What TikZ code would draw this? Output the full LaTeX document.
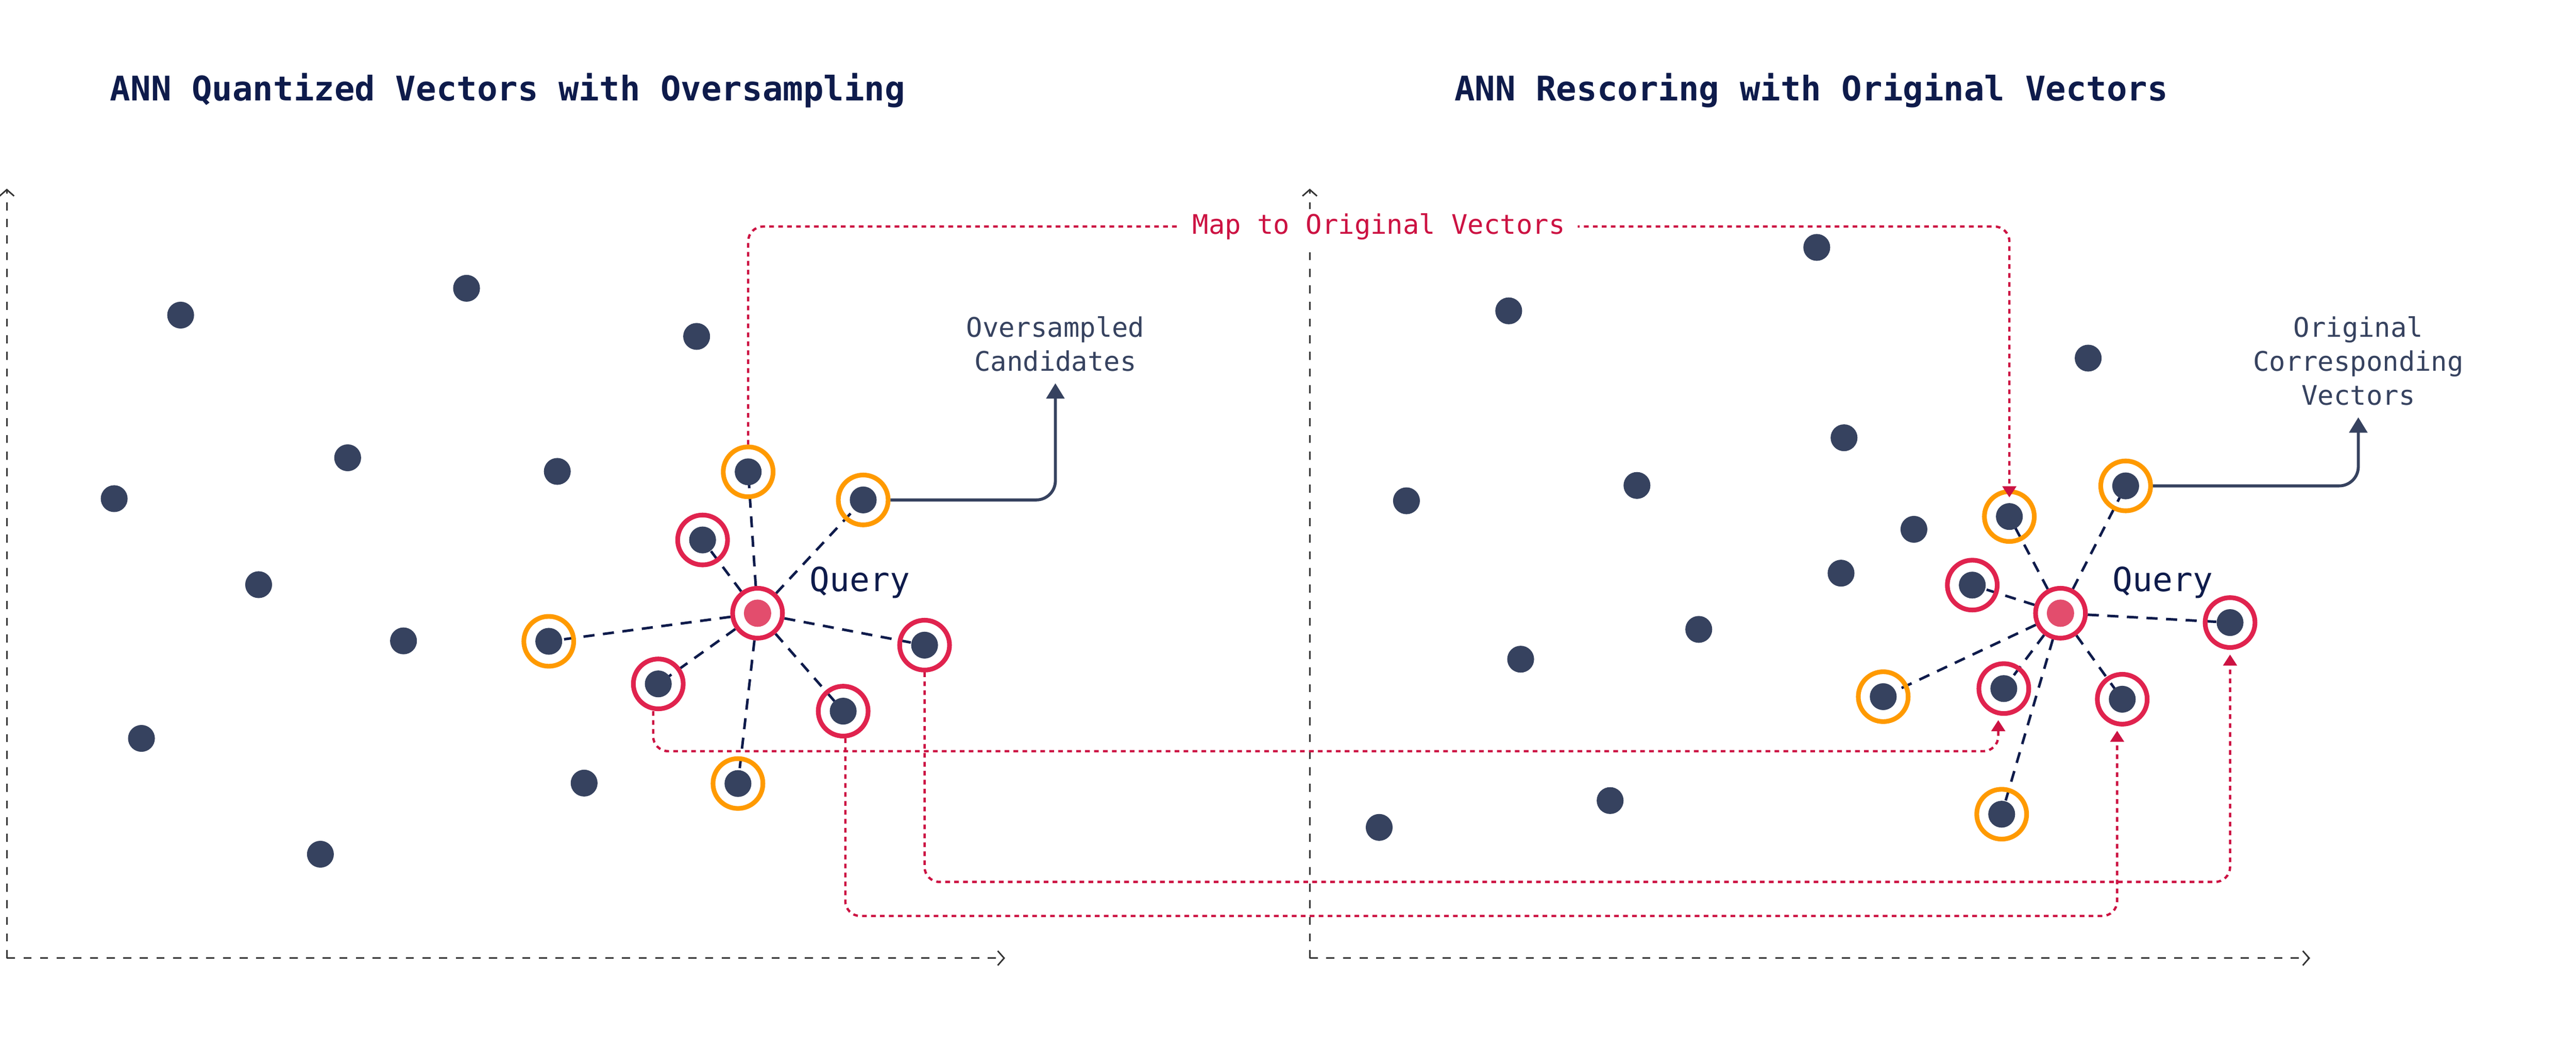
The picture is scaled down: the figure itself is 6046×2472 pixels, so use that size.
\documentclass[tikz,border=0pt]{standalone}
\usepackage{fontspec}
\setmonofont{DejaVu Sans Mono}
\usetikzlibrary{positioning,arrows.meta,backgrounds}

\definecolor{vecblue}{HTML}{36425F}
\definecolor{navy}{HTML}{0E1B4B}
\definecolor{candorange}{HTML}{FF9A00}
\definecolor{candred}{HTML}{E0234E}
\definecolor{querypink}{HTML}{E34D6D}
\definecolor{mapred}{HTML}{CC1242}
\definecolor{axisgrey}{HTML}{333333}

\tikzset{
    vec/.style={circle,fill=vecblue,inner sep=0pt,minimum size=0.63cm},
    cand/.style={circle,draw=#1,line width=0.11cm,inner sep=0pt,minimum size=1.17cm,
        path picture={\fill[vecblue] (path picture bounding box.center) circle (0.315cm);}},
    query/.style={circle,draw=candred,line width=0.11cm,inner sep=0pt,minimum size=1.17cm,
        path picture={\fill[querypink] (path picture bounding box.center) circle (0.32cm);}},
    spoke/.style={navy,line width=0.06cm,dash pattern=on 0.26cm off 0.2cm},
    mapline/.style={mapred,line width=0.055cm,dash pattern=on 0.11cm off 0.1cm,
        rounded corners=0.35cm,-{Triangle[length=0.26cm,width=0.32cm]}},
    pointer/.style={vecblue,line width=0.07cm,rounded corners=0.45cm,
        -{Triangle[length=0.36cm,width=0.42cm]}},
    axisline/.style={axisgrey,line width=0.035cm,dash pattern=on 0.19cm off 0.2cm,
        -{Straight Barb[length=0.15cm,width=0.34cm]}},
    title/.style={font=\ttfamily\bfseries\fontsize{22.6pt}{27pt}\selectfont,text=navy,inner sep=0pt},
    qlabel/.style={font=\ttfamily\fontsize{22.2pt}{26pt}\selectfont,text=navy,inner sep=0pt},
    note/.style={font=\ttfamily\fontsize{17.95pt}{22.76pt}\selectfont,text=vecblue,align=center,inner sep=0pt},
    maplabel/.style={font=\ttfamily\fontsize{17.95pt}{22pt}\selectfont,text=mapred,fill=white,
        inner xsep=0.3cm,inner ysep=0.1cm}
}

\begin{document}
\begin{tikzpicture}[x=0.01cm,y=-0.01cm]
    \useasboundingbox (0,0) rectangle (6046,2472);

    % titles
    \node[title,anchor=base west] (titleL) at (258,236) {ANN Quantized Vectors with Oversampling};
    \node[title,anchor=base west] (titleR) at (3413,236) {ANN Rescoring with Original Vectors};

    % axes
    \coordinate (Lorig)  at (16,2250);
    \coordinate (Ltop)   at (16,443);
    \coordinate (Lright) at (2359,2250);
    \coordinate (Rorig)  at (3074,2250);
    \coordinate (Rtop)   at (3074,443);
    \coordinate (Rright) at (5422,2250);

    % left panel: quantized vectors
    \node[vec] (lp1)  at (424,740) {};
    \node[vec] (lp2)  at (1095,677) {};
    \node[vec] (lp3)  at (1635,790) {};
    \node[vec] (lp4)  at (268,1171) {};
    \node[vec] (lp5)  at (816,1075) {};
    \node[vec] (lp6)  at (1308,1107) {};
    \node[vec] (lp7)  at (607,1373) {};
    \node[vec] (lp8)  at (947,1505) {};
    \node[vec] (lp9)  at (332,1734) {};
    \node[vec] (lp10) at (1371,1839) {};
    \node[vec] (lp11) at (752,2006) {};

    \node[query] (QL) at (1778,1440) {};
    \node[cand=candorange] (lo1) at (1756,1108) {};
    \node[cand=candorange] (lo2) at (2026,1174) {};
    \node[cand=candorange] (lo3) at (1288,1506) {};
    \node[cand=candorange] (lo4) at (1732,1840) {};
    \node[cand=candred]    (lr1) at (1649,1268) {};
    \node[cand=candred]    (lr2) at (1545,1606) {};
    \node[cand=candred]    (lr3) at (2170,1515) {};
    \node[cand=candred]    (lr4) at (1979,1670) {};
    \node[qlabel,anchor=base west] (qtxtL) at ([xshift=1.22cm,yshift=0.51cm]QL.center) {Query};

    % right panel: original vectors
    \node[vec] (rp1)  at (4264,581) {};
    \node[vec] (rp2)  at (3541,730) {};
    \node[vec] (rp3)  at (4901,841) {};
    \node[vec] (rp4)  at (3301,1176) {};
    \node[vec] (rp5)  at (3842,1140) {};
    \node[vec] (rp6)  at (4328,1028) {};
    \node[vec] (rp7)  at (4492,1243) {};
    \node[vec] (rp8)  at (4321,1346) {};
    \node[vec] (rp9)  at (3987,1478) {};
    \node[vec] (rp10) at (3569,1548) {};
    \node[vec] (rp11) at (3779,1880) {};
    \node[vec] (rp12) at (3237,1943) {};

    \node[query] (QR) at (4836,1440) {};
    \node[cand=candorange] (ro1) at (4716,1213) {};
    \node[cand=candorange] (ro2) at (4989,1141) {};
    \node[cand=candorange] (ro3) at (4420,1636) {};
    \node[cand=candorange] (ro4) at (4698,1912) {};
    \node[cand=candred]    (rr1) at (4629,1374) {};
    \node[cand=candred]    (rr2) at (5234,1462) {};
    \node[cand=candred]    (rr3) at (4703,1617) {};
    \node[cand=candred]    (rr4) at (4981,1642) {};
    \node[qlabel,anchor=base west] (qtxtR) at ([xshift=1.22cm,yshift=0.51cm]QR.center) {Query};

    \begin{scope}[on background layer]
        \draw[axisline] (Lorig) -- (Ltop);
        \draw[axisline] (Lorig) -- (Lright);
        \draw[axisline] (Rorig) -- (Rtop);
        \draw[axisline] (Rorig) -- (Rright);
        \draw[spoke] (QL) -- (lo1.center) (QL) -- (lo2.center) (QL) -- (lo3.center) (QL) -- (lo4.center)
                     (QL) -- (lr1.center) (QL) -- (lr2.center) (QL) -- (lr3.center) (QL) -- (lr4.center);
        \draw[spoke] (QR) -- (ro1.center) (QR) -- (ro2.center) (QR) -- (ro3.center) (QR) -- (ro4.center)
                     (QR) -- (rr1.center) (QR) -- (rr2.center) (QR) -- (rr3.center) (QR) -- (rr4.center);
    \end{scope}

    % callouts
    \coordinate (ovsTip) at (2477,900);
    \draw[pointer] (lo2.east) -| (ovsTip);
    \node[note,above=0.27cm of ovsTip] (ovs) {Oversampled\\Candidates};
    \coordinate (origTip) at (5535,980);
    \draw[pointer] (ro2.east) -| (origTip);
    \node[note,above=0.27cm of origTip] (orig) {Original\\Corresponding\\Vectors};

    % mapping to original vectors
    \draw[mapline] (lo1.north) -- (lo1 |- 0,532)
        -- node[maplabel] (maptxt) {Map to Original Vectors} (ro1 |- 0,532)
        -- ([yshift=-0.19cm]ro1.north);
    \draw[mapline] ([xshift=-0.12cm]lr2.south) |- ([xshift=-0.13cm]rr3.south |- 0,1764)
        -- ([xshift=-0.13cm,yshift=-0.1cm]rr3.south);
    \draw[mapline] (lr3.south) |- (rr2.south |- 0,2071) -- ([yshift=-0.11cm]rr2.south);
    \draw[mapline] ([xshift=0.05cm]lr4.south) |- ([xshift=-0.12cm]rr4.south |- 0,2151)
        -- ([xshift=-0.12cm,yshift=-0.1cm]rr4.south);
\end{tikzpicture}
\end{document}
